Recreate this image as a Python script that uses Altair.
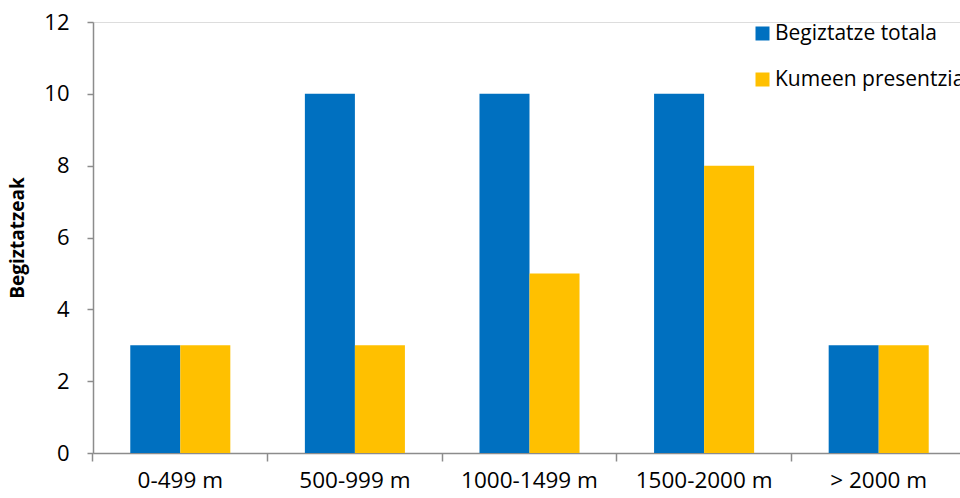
import altair as alt
import pandas as pd

categories = ["0-499 m", "500-999 m", "1000-1499 m", "1500-2000 m", "> 2000 m"]
series_names = ["Begiztatze totala", "Kumeen presentzia"]
total_values = [3, 10, 10, 10, 3]
kumeen_values = [3, 3, 5, 8, 3]
y_ticks = [0, 2, 4, 6, 8, 10, 12]
colors = ["#0070C0", "#FFC000"]

rows = []
for c, a, b in zip(categories, total_values, kumeen_values):
    rows.append({"cat": c, "serie": series_names[0], "val": a})
    rows.append({"cat": c, "serie": series_names[1], "val": b})
df = pd.DataFrame(rows)

FONT = "Open Sans"
AXIS_COLOR = "#8c8c8c"

chart = alt.Chart(df).mark_bar().encode(
    x=alt.X("cat:N", sort=categories, title=None,
            scale=alt.Scale(range=[0, 873], paddingInner=0.427, paddingOuter=0.2135),
            axis=alt.Axis(labelAngle=0, labelFontSize=22.5, labelFont=FONT, labelColor="#000000",
                          labelPadding=8, tickSize=8, tickColor=AXIS_COLOR, domainColor=AXIS_COLOR,
                          domainWidth=1.5, tickWidth=1.5, bandPosition=-0.373, grid=False,
                          labelLimit=300)),
    xOffset=alt.XOffset("serie:N", sort=series_names,
                        scale=alt.Scale(paddingInner=0, paddingOuter=0)),
    y=alt.Y("val:Q", title="Begiztatzeak",
            scale=alt.Scale(domain=[0, 12], nice=False),
            axis=alt.Axis(values=y_ticks, grid=False, labelFontSize=22, labelFont=FONT,
                          labelColor="#000000", labelPadding=18, tickSize=6,
                          tickColor=AXIS_COLOR, domainColor=AXIS_COLOR, domainWidth=1.5, tickWidth=1.5,
                          titleFont=FONT, titleFontSize=19, titleFontWeight="bold",
                          titleColor="#000000", titlePadding=16)),
    color=alt.Color("serie:N", sort=series_names,
                    scale=alt.Scale(domain=series_names, range=colors),
                    legend=alt.Legend(title=None, orient="none", legendX=659, legendY=1,
                                      symbolType="square", symbolSize=196, symbolStrokeWidth=0,
                                      labelFont=FONT, labelFontSize=21, labelColor="#000000",
                                      rowPadding=24, symbolOffset=0, labelOffset=2,
                                      labelLimit=400, padding=0)),
).properties(
    width=867, height=431,
    autosize=alt.AutoSizeParams(type="none"),
    padding={"left": 93, "top": 22, "right": 0, "bottom": 45},
).configure_view(stroke=None).configure(background="white")

chart.save("out.html", embed_options={"renderer": "svg", "actions": False})
